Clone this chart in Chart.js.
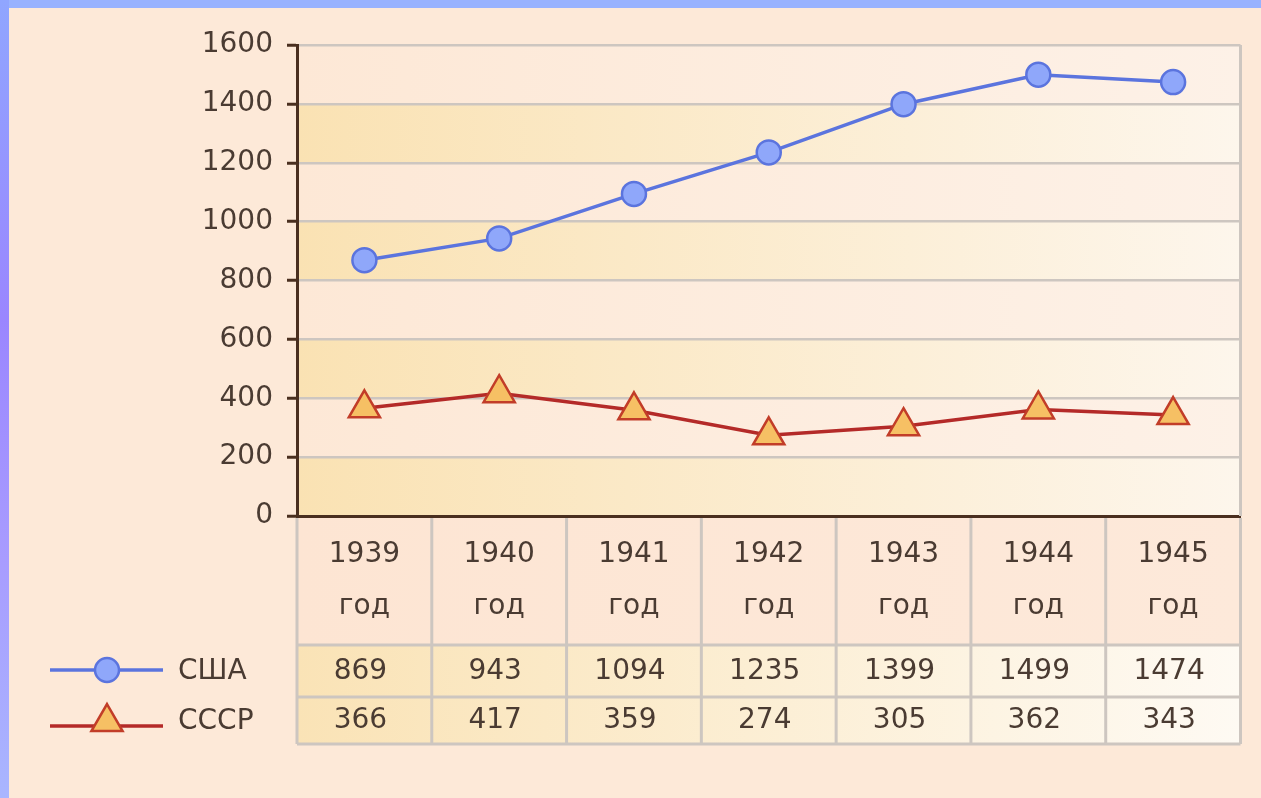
<!DOCTYPE html>
<html>
<head>
<meta charset="utf-8">
<script src="https://cdn.jsdelivr.net/npm/chart.js@4"></script>
<style>
    html, body { margin: 0; padding: 0; }
    body { width: 1261px; height: 798px; background: #fde9d8; position: relative; overflow: hidden; }
    #topStrip { position: absolute; left: 0; top: 0; width: 1261px; height: 8px; background: #98b2ff; }
    #leftStrip { position: absolute; left: 0; top: 0; width: 9px; height: 798px;
        background: linear-gradient(#90a6ff, #9a86ff 40%, #a89cff 70%, #a9b6ff); }
    canvas { position: absolute; left: 0; top: 0; }
</style>
</head>
<body>
<canvas id="chart" width="1261" height="798"></canvas>
<div id="topStrip"></div>
<div id="leftStrip"></div>
<script>
// data
const years = ['1939', '1940', '1941', '1942', '1943', '1944', '1945'];
const yearWord = 'год';
const seriesNames = ['США', 'СССР'];
const usaValues = [869, 943, 1094, 1235, 1399, 1499, 1474];
const ussrValues = [366, 417, 359, 274, 305, 362, 343];
const yMin = 0, yMax = 1600, yStep = 200;

const FONT = '"DejaVu Sans", Verdana, sans-serif';
const TEXT = '#4a3b32';
const AXIS = '#4a2f1f';
const GRID = '#cdc6c0';

// alternating horizontal bands behind the plot
const bandsPlugin = {
    id: 'bands',
    beforeDraw(chart) {
        const { ctx, chartArea: a, scales: { y } } = chart;
        ctx.save();
        for (let v = yMin; v < yMax; v += yStep) {
            const top = y.getPixelForValue(v + yStep), bot = y.getPixelForValue(v);
            const g = ctx.createLinearGradient(a.left, 0, a.right, 0);
            if ((v / yStep) % 2 === 0) {
                g.addColorStop(0, '#fae2b3'); g.addColorStop(1, '#fdf6ec');
            } else {
                g.addColorStop(0, '#fde8d6'); g.addColorStop(1, '#fdf1e7');
            }
            ctx.fillStyle = g;
            ctx.fillRect(a.left, top, a.right - a.left, bot - top);
        }

        // table cells under the x axis
        const hdrBot = a.bottom + 129, r1Bot = hdrBot + 52, r2Bot = r1Bot + 47;
        const gh = ctx.createLinearGradient(a.left, 0, a.right, 0);
        gh.addColorStop(0, '#fde5d3'); gh.addColorStop(1, '#fde9da');
        ctx.fillStyle = gh;
        ctx.fillRect(a.left, a.bottom, a.right - a.left, hdrBot - a.bottom);
        const gv = ctx.createLinearGradient(a.left, 0, a.right, 0);
        gv.addColorStop(0, '#fae3b6'); gv.addColorStop(1, '#fefaf3');
        ctx.fillStyle = gv;
        ctx.fillRect(a.left, hdrBot, a.right - a.left, r2Bot - hdrBot);
        ctx.restore();
    },
    beforeDatasetsDraw(chart) {
        const { ctx, chartArea: a } = chart;
        ctx.save();
        ctx.strokeStyle = GRID;
        ctx.lineWidth = 3;
        ctx.beginPath();
        ctx.moveTo(a.right, a.top);
        ctx.lineTo(a.right, a.bottom);
        ctx.stroke();
        ctx.restore();
    }
};

// data table + legend drawn below the axis
const tablePlugin = {
    id: 'table',
    afterDraw(chart) {
        const { ctx, chartArea: a, scales: { x } } = chart;
        const half = (x.getPixelForValue(1) - x.getPixelForValue(0)) / 2;
        const hdrBot = a.bottom + 129, r1Bot = hdrBot + 52, r2Bot = r1Bot + 47;
        ctx.save();
        ctx.strokeStyle = GRID;
        ctx.lineWidth = 3;
        ctx.beginPath();
        for (let i = 0; i <= years.length; i++) {
            const px = i < years.length ? x.getPixelForValue(i) - half : a.right;
            ctx.moveTo(px, a.bottom + 2);
            ctx.lineTo(px, r2Bot);
        }
        [hdrBot, r1Bot, r2Bot].forEach(py => {
            ctx.moveTo(a.left, py);
            ctx.lineTo(a.right, py);
        });
        ctx.stroke();

        ctx.fillStyle = TEXT;
        ctx.font = '28px ' + FONT;
        ctx.textAlign = 'center';
        ctx.textBaseline = 'middle';
        const rowsY = [(hdrBot + r1Bot) / 2 + 1, (r1Bot + r2Bot) / 2];
        [usaValues, ussrValues].forEach((vals, r) => {
            vals.forEach((v, i) => ctx.fillText(String(v), x.getPixelForValue(i) - 4, rowsY[r]));
        });

        // legend
        chart.data.datasets.forEach((ds, r) => {
            const ly = r === 0 ? 670 : 726;
            ctx.strokeStyle = ds.borderColor;
            ctx.lineWidth = ds.borderWidth;
            ctx.beginPath();
            ctx.moveTo(50, ly);
            ctx.lineTo(163, ly);
            ctx.stroke();
            ctx.fillStyle = ds.pointBackgroundColor;
            ctx.strokeStyle = ds.pointBorderColor;
            ctx.lineWidth = ds.pointBorderWidth;
            Chart.helpers.drawPoint(ctx, {
                pointStyle: ds.pointStyle,
                radius: ds.pointRadius,
                borderWidth: ds.pointBorderWidth,
                rotation: 0
            }, 107, ly + (r === 0 ? 0 : -4));
            ctx.fillStyle = TEXT;
            ctx.textAlign = 'left';
            ctx.fillText(ds.label, 178, ly + (r === 0 ? 2 : -4));
        });
        ctx.restore();
    }
};

new Chart(document.getElementById('chart'), {
    type: 'line',
    data: {
        labels: years.map(y => [y, yearWord]),
        datasets: [{
            label: seriesNames[0],
            data: usaValues,
            borderColor: '#5b74de',
            borderWidth: 3.5,
            pointStyle: 'circle',
            pointRadius: 12,
            pointBackgroundColor: '#8fa7fa',
            pointBorderColor: '#5b74de',
            pointBorderWidth: 2.5,
            tension: 0
        }, {
            label: seriesNames[1],
            data: ussrValues,
            borderColor: '#b42a28',
            borderWidth: 3.5,
            pointStyle: 'triangle',
            pointRadius: 18,
            pointBackgroundColor: '#f6c064',
            pointBorderColor: '#c23d28',
            pointBorderWidth: 2.5,
            tension: 0
        }]
    },
    options: {
        responsive: false,
        animation: false,
        layout: { padding: { left: 0, top: 45, right: 15, bottom: 0 } },
        plugins: { legend: { display: false }, tooltip: { enabled: false } },
        scales: {
            x: {
                offset: true,
                afterFit: s => { s.height = 282; },
                grid: { display: false, drawTicks: false },
                border: { color: AXIS, width: 3 },
                ticks: {
                    color: TEXT,
                    padding: 13,
                    maxRotation: 0,
                    font: { family: FONT, size: 28, lineHeight: 1.85 }
                }
            },
            y: {
                min: yMin, max: yMax,
                afterFit: s => { s.width = 297; },
                grid: { color: GRID, lineWidth: 2.5, tickColor: AXIS, tickLength: 10, tickWidth: 3 },
                border: { color: AXIS, width: 3 },
                ticks: {
                    stepSize: yStep,
                    color: TEXT,
                    padding: 14,
                    font: { family: FONT, size: 28 },
                    callback: v => String(v)
                }
            }
        }
    },
    plugins: [bandsPlugin, tablePlugin]
});
</script>
</body>
</html>
